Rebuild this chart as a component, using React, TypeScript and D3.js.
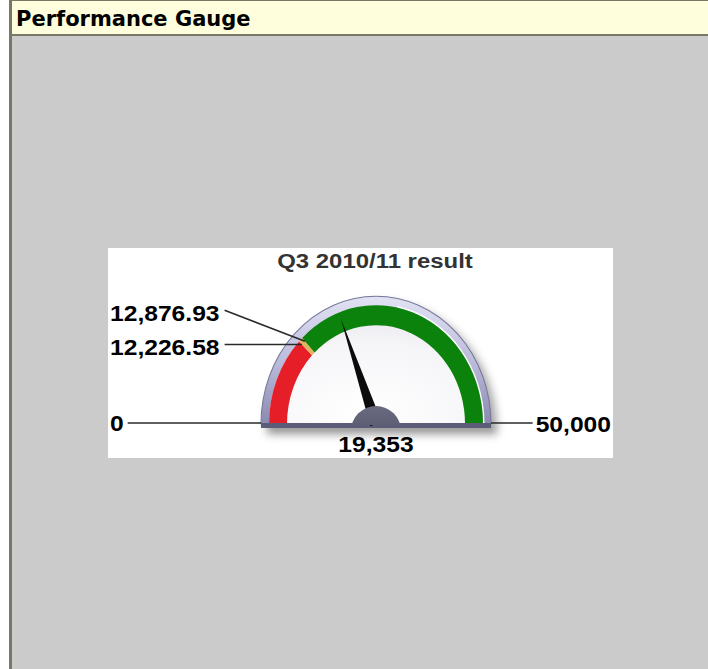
import React from "react";
import * as d3 from "d3";

const gaugeMin = 0;
const gaugeMax = 50000;
const thresholds = [12226.58, 12876.93];
const bandColors = ["#e61e28", "#e2b25c", "#0b820b"];
const currentValue = 19353;
const chartTitle = "Q3 2010/11 result";
const panelTitle = "Performance Gauge";
const tickValues = [0, 12226.58, 12876.93, 50000];
const tickLabels = ["0", "12,226.58", "12,876.93", "50,000"];
const valueLabel = "19,353";

const FONT = "'Liberation Sans', Arial, sans-serif";
const LABEL_SIZE = 22;
const SX = 1.12;

function textWidth(s: string, size: number, sx: number) {
  let w = 0;
  for (const ch of s) {
    if (/[0-9]/.test(ch)) w += 0.556;
    else if (ch === "," || ch === ".") w += 0.278;
    else w += 0.556;
  }
  return w * size * sx;
}

export default function App() {
  const W = 708;
  const H = 669;
  const panel = { x: 108, y: 248, w: 505, h: 210 };
  const cx = 376;
  const cy = 424;
  const ky = 1.11;
  const rInner = 89;
  const rOuter = 107;
  const rRim = 115;

  const angle = d3
    .scaleLinear()
    .domain([gaugeMin, gaugeMax])
    .range([-Math.PI / 2, Math.PI / 2]);

  const stops = [gaugeMin, ...thresholds, gaugeMax];
  const bandArc = d3.arc<any>().innerRadius(rInner).outerRadius(rOuter);
  const bands = stops.slice(0, -1).map((v, i) => ({
    d: bandArc({ startAngle: angle(v), endAngle: angle(stops[i + 1]) }) as string,
    color: bandColors[i],
  }));

  const rimPath = d3.arc<any>()({
    innerRadius: rOuter,
    outerRadius: rRim,
    startAngle: -Math.PI / 2,
    endAngle: Math.PI / 2,
  }) as string;
  const facePath = d3.arc<any>()({
    innerRadius: 0,
    outerRadius: rOuter,
    startAngle: -Math.PI / 2,
    endAngle: Math.PI / 2,
  }) as string;
  const outlinePath = d3.arc<any>()({
    innerRadius: 0,
    outerRadius: rRim,
    startAngle: -Math.PI / 2,
    endAngle: Math.PI / 2,
  }) as string;
  const whiteLine = d3.arc<any>()({
    innerRadius: rOuter,
    outerRadius: rOuter + 1.5,
    startAngle: 0.2,
    endAngle: Math.PI / 2,
  }) as string;

  const pt = (v: number, r: number) => {
    const a = angle(v);
    return [cx + r * Math.sin(a), cy - r * Math.cos(a) * ky];
  };

  // needle in circle coordinates
  const na = angle(currentValue);
  const nLen = 101;
  const nHalf = 6;
  const tip = [nLen * Math.sin(na), -nLen * Math.cos(na)];
  const perp = [Math.cos(na), Math.sin(na)];
  const needle = d3.line()([
    [tip[0], tip[1]],
    [perp[0] * nHalf, perp[1] * nHalf],
    [-perp[0] * nHalf, -perp[1] * nHalf],
  ]) as string;

  const lineColor = "#2a2a2a";
  const labelX = panel.x + 2;

  const labelEls: React.ReactNode[] = [];
  tickValues.forEach((v, i) => {
    const label = tickLabels[i];
    const tw = textWidth(label, LABEL_SIZE, SX);
    if (i === 0) {
      labelEls.push(
        <g key={i}>
          <line x1={labelX + tw + 4} y1={cy - 1} x2={cx - rRim} y2={cy - 1} stroke={lineColor} strokeWidth={1.6} />
          <text transform={`translate(${labelX},${cy + 7}) scale(${SX},1)`} fontSize={LABEL_SIZE} fontWeight="bold" fontFamily={FONT}>{label}</text>
        </g>
      );
    } else if (i === tickValues.length - 1) {
      const rx = panel.x + panel.w - 2;
      labelEls.push(
        <g key={i}>
          <line x1={cx + rRim} y1={cy - 1} x2={rx - tw - 3} y2={cy - 1} stroke={lineColor} strokeWidth={1.6} />
          <text transform={`translate(${rx},${cy + 8}) scale(${SX},1)`} textAnchor="end" fontSize={LABEL_SIZE} fontWeight="bold" fontFamily={FONT}>{label}</text>
        </g>
      );
    } else {
      const [ax, ay] = pt(v, rOuter - 4);
      const offset = i === 1 ? 0 : -30;
      const ty = ay + 3 + offset;
      const ly = i === 1 ? ay : ty - 4;
      labelEls.push(
        <g key={i}>
          <line x1={labelX + tw + 5} y1={ly} x2={ax} y2={ay} stroke={lineColor} strokeWidth={1.6} />
          <text transform={`translate(${labelX},${ty + 7}) scale(${SX},1)`} fontSize={LABEL_SIZE} fontWeight="bold" fontFamily={FONT}>{label}</text>
        </g>
      );
    }
  });

  return (
    <svg
      width={W}
      height={H}
      style={{ position: "absolute", left: 0, top: 0, display: "block" }}
    >
      <defs>
        <linearGradient id="rimG" x1="0" y1={-rRim} x2="0" y2="0" gradientUnits="userSpaceOnUse">
          <stop offset="0" stopColor="#e2e2f4" />
          <stop offset="0.5" stopColor="#bcbcdc" />
          <stop offset="1" stopColor="#8a8ab0" />
        </linearGradient>
        <radialGradient id="faceG" cx="0.45" cy="0.9" r="1" gradientUnits="objectBoundingBox">
          <stop offset="0" stopColor="#ffffff" />
          <stop offset="0.6" stopColor="#f5f5f8" />
          <stop offset="1" stopColor="#dedee6" />
        </radialGradient>
        <linearGradient id="hubG" x1="0" y1="0" x2="0" y2="1">
          <stop offset="0" stopColor="#6a6a80" />
          <stop offset="1" stopColor="#4a4a60" />
        </linearGradient>
        <filter id="shadow" x="-20%" y="-20%" width="140%" height="140%">
          <feGaussianBlur stdDeviation="4" />
        </filter>
        <clipPath id="hubClip">
          <rect x={cx - 40} y={cy - 40} width={80} height={41} />
        </clipPath>
      </defs>

      {/* page background */}
      <rect x={0} y={0} width={W} height={H} fill="#ffffff" />
      <rect x={12} y={36} width={W - 12} height={H - 36} fill="#cbcbcb" />
      {/* header */}
      <rect x={12} y={1} width={W - 12} height={33} fill="#fffedc" />
      <rect x={9} y={0} width={W - 9} height={1} fill="#787868" />
      <rect x={9} y={34} width={W - 9} height={2} fill="#787868" />
      <rect x={9} y={0} width={3} height={H} fill="#787868" />
      <text x={16} y={26} fontFamily="Verdana, 'DejaVu Sans', sans-serif" fontWeight="bold" fontSize={21} fill="#000">
        {panelTitle}
      </text>

      {/* chart panel */}
      <rect x={panel.x} y={panel.y} width={panel.w} height={panel.h} fill="#ffffff" />
      <text
        transform={`translate(${cx - 1},${268}) scale(1.14,1)`}
        textAnchor="middle"
        fontFamily={FONT}
        fontWeight="bold"
        fontSize={21}
        fill="#333333"
      >
        {chartTitle}
      </text>

      {/* shadow */}
      <g transform={`translate(${cx + 6},${cy + 6}) scale(1,${ky})`} filter="url(#shadow)">
        <path d={outlinePath} fill="rgba(0,0,0,0.35)" />
        <rect x={-rRim} y={-2} width={rRim * 2} height={6} fill="rgba(0,0,0,0.35)" />
      </g>

      {/* gauge body */}
      <g transform={`translate(${cx},${cy}) scale(1,${ky})`}>
        <path d={facePath} fill="url(#faceG)" />
        <path d={rimPath} fill="url(#rimG)" />
        <path d={outlinePath} fill="none" stroke="#76769a" strokeWidth={1} />
        <path d={whiteLine} fill="#ffffff" />
        {bands.map((b, i) => (
          <path key={i} d={b.d} fill={b.color} />
        ))}
      </g>
      <rect x={cx - rRim} y={cy - 1} width={rRim * 2} height={5} fill="#5c5c78" />

      {/* needle */}
      <g transform={`translate(${cx},${cy}) scale(1,${ky})`}>
        <path d={needle} fill="#0c0c0c" />
      </g>
      <circle cx={cx} cy={cy + 7} r={25} fill="url(#hubG)" clipPath="url(#hubClip)" />

      {/* labels */}
      {labelEls}
      <text
        transform={`translate(${cx},${452}) scale(${SX},1)`}
        textAnchor="middle"
        fontFamily={FONT}
        fontWeight="bold"
        fontSize={LABEL_SIZE}
        fill="#000"
      >
        {valueLabel}
      </text>
    </svg>
  );
}
